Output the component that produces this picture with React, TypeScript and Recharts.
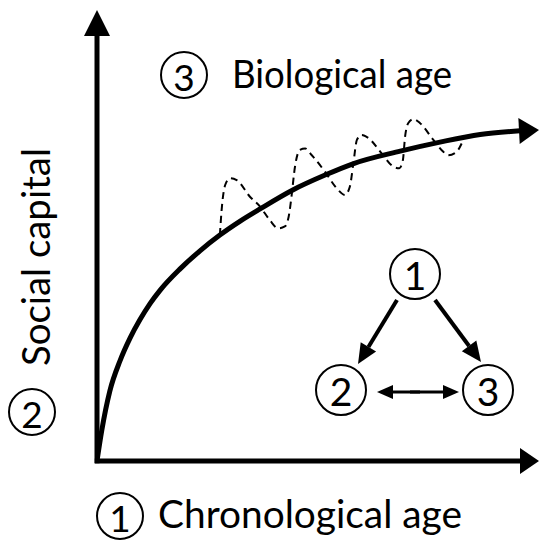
import { LineChart, Line, XAxis, YAxis, ReferenceLine, ReferenceDot } from 'recharts'

// main curve: social capital over chronological age
const ageX = [0, 1.1, 2.9, 5.2, 7.5, 9.7, 12.0, 14.3, 18.8, 23.3, 27.8, 32.4, 36.9, 44.3, 51.6, 57.9, 68.6, 77.6, 86.7, 95.7]
const socialCapital = [0, 6.9, 15.5, 22.2, 27.3, 31.3, 34.9, 37.9, 42.6, 46.6, 50.1, 53.2, 55.9, 60.1, 63.4, 65.9, 68.7, 70.7, 72.4, 73.2]

// dashed wobble = biological age around the curve
const bioX = [27.8, 28.2, 29.0, 30.1, 31.6, 34.6, 36.9, 39.1, 41.0, 42.5, 43.5, 44.0, 44.8, 45.9, 47.1, 48.6, 51.6, 54.2, 56.1, 57.2, 58.0, 58.8, 59.9, 61.4, 64.4, 67.0, 68.4, 69.2, 69.7, 70.4, 71.6, 73.1, 76.1, 78.3, 79.5, 81.4, 82.5]
const bioY = [50.1, 55.7, 61.2, 62.7, 62.3, 58.6, 56.4, 53.4, 51.6, 52.0, 54.9, 58.6, 65.3, 69.0, 69.3, 67.8, 64.1, 60.5, 59.0, 60.8, 66.0, 71.2, 72.3, 71.6, 68.2, 65.3, 64.9, 66.7, 71.9, 74.9, 75.8, 74.9, 71.2, 68.6, 67.8, 68.6, 70.4]

const curveData = ageX.map((x, i) => ({ x, y: socialCapital[i] }))
const bioData = bioX.map((x, i) => ({ x, y: bioY[i] }))

const W = 539
const H = 544
const FONT = "Lato, 'Open Sans', sans-serif"

const arrowRight = (len: number, half: number, tilt = 0) => (p: any) => (
    <polygon
        points={`${p.cx},${p.cy} ${p.cx - len},${p.cy - half} ${p.cx - len},${p.cy + half}`}
        transform={`rotate(${tilt} ${p.cx} ${p.cy})`}
        fill="#000"
    />
)
const arrowUp = (len: number, half: number) => (p: any) => (
    <polygon points={`${p.cx},${p.cy} ${p.cx - half},${p.cy + len} ${p.cx + half},${p.cy + len}`} fill="#000" />
)

const Circled = ({ cx, cy, r, n, size }: { cx: number; cy: number; r: number; n: string; size: number }) => (
    <g>
        <circle cx={cx} cy={cy} r={r} fill="#fff" stroke="#000" strokeWidth={2} />
        <text x={cx} y={cy + 1} textAnchor="middle" dominantBaseline="central" fontFamily={FONT} fontSize={size} fill="#000">
            {n}
        </text>
    </g>
)

// arrow from (x1,y1) to tip (x2,y2)
const Arrow = ({ x1, y1, x2, y2, len, half, w }: any) => {
    const dx = x2 - x1
    const dy = y2 - y1
    const d = Math.hypot(dx, dy)
    const ux = dx / d
    const uy = dy / d
    const bx = x2 - ux * len
    const by = y2 - uy * len
    return (
        <g>
            <line x1={x1} y1={y1} x2={bx} y2={by} stroke="#000" strokeWidth={w} />
            <polygon points={`${x2},${y2} ${bx - uy * half},${by + ux * half} ${bx + uy * half},${by - ux * half}`} fill="#000" />
        </g>
    )
}

export default function App() {
    return (
        <div style={{ position: 'relative', width: W, height: H, background: '#fff' }}>
            <style>{`body{margin:0}`}</style>
            <LineChart width={W} height={H} margin={{ top: 10, right: 0, bottom: 83, left: 97 }}>
                <XAxis type="number" dataKey="x" domain={[0, 100]} hide allowDataOverflow />
                <YAxis type="number" dataKey="y" domain={[0, 100]} hide allowDataOverflow />
                {/* axes with arrows */}
                <ReferenceLine segment={[{ x: -0.5, y: 0 }, { x: 96.2, y: 0 }]} stroke="#000" strokeWidth={5} ifOverflow="visible" />
                <ReferenceLine segment={[{ x: 0, y: -0.5 }, { x: 0, y: 94.5 }]} stroke="#000" strokeWidth={5} ifOverflow="visible" />
                <ReferenceDot x={100} y={0} r={0} ifOverflow="visible" shape={arrowRight(19, 13)} />
                <ReferenceDot x={0} y={100} r={0} ifOverflow="visible" shape={arrowUp(26, 13)} />
                <Line data={bioData} dataKey="y" type="monotone" stroke="#000" strokeWidth={2} strokeDasharray="7 5" dot={false} isAnimationActive={false} />
                <Line data={curveData} dataKey="y" type="monotone" stroke="#000" strokeWidth={5} dot={false} isAnimationActive={false} />
                <ReferenceDot x={100} y={73.4} r={0} ifOverflow="visible" shape={arrowRight(20, 13, -3)} />
            </LineChart>
            <svg width={W} height={H} style={{ position: 'absolute', left: 0, top: 0, pointerEvents: 'none' }}>
                <Circled cx={184} cy={75} r={23} n="3" size={37} />
                <text x={232} y={88} fontFamily={FONT} fontSize={39} textLength={220} lengthAdjust="spacingAndGlyphs">Biological age</text>
                <Circled cx={120} cy={516} r={23} n="1" size={37} />
                <text x={158} y={528} fontFamily={FONT} fontSize={39} textLength={304} lengthAdjust="spacingAndGlyphs">Chronological age</text>
                <text x={0} y={0} transform="translate(50,366) rotate(-90)" fontFamily={FONT} fontSize={39} textLength={218} lengthAdjust="spacingAndGlyphs">Social capital</text>
                <Circled cx={32} cy={412} r={23} n="2" size={37} />

                {/* 1 -> 2, 1 -> 3, 2 <-> 3 */}
                <Arrow x1={397} y1={300} x2={358} y2={364} len={20} half={9} w={4} />
                <Arrow x1={435} y1={300} x2={481} y2={362} len={20} half={9} w={4} />
                <Arrow x1={420} y1={392} x2={377} y2={392} len={16} half={7} w={3} />
                <Arrow x1={410} y1={392} x2={459} y2={392} len={16} half={7} w={3} />
                <Circled cx={415} cy={274} r={25} n="1" size={39} />
                <Circled cx={341} cy={390} r={25} n="2" size={39} />
                <Circled cx={488} cy={390} r={25} n="3" size={39} />
            </svg>
        </div>
    )
}
